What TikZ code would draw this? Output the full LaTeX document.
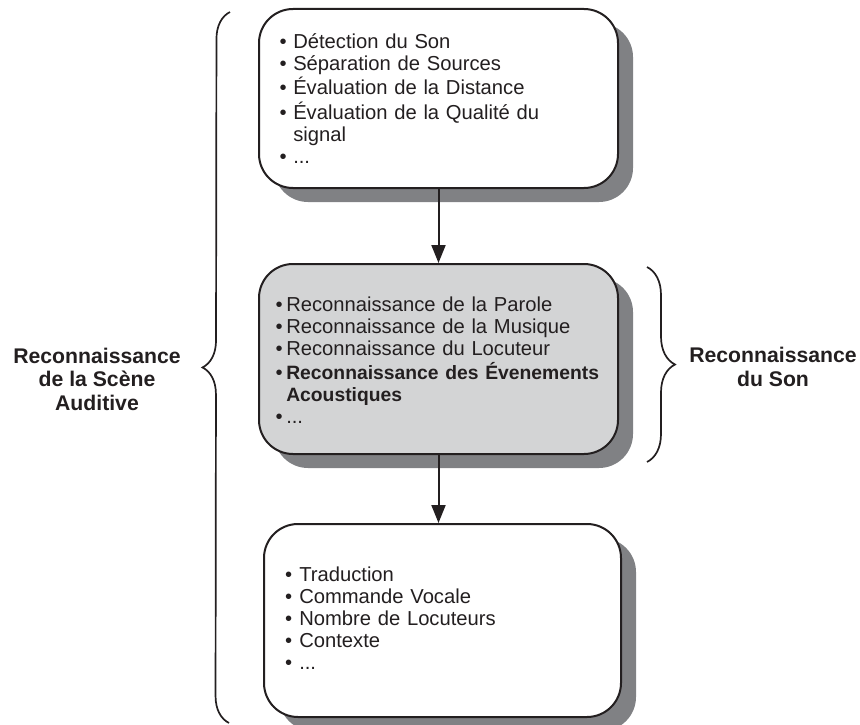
\documentclass[tikz,border=0pt]{standalone}
\usepackage{fontspec}
\setmainfont{Liberation Sans}
\usetikzlibrary{arrows.meta,shadows,decorations.pathreplacing}

\definecolor{shadowgray}{RGB}{128,129,132}
\definecolor{boxgray}{RGB}{211,212,213}
\definecolor{ink}{RGB}{35,31,32}

\newcommand{\itemfont}{\fontsize{20.2}{22}\selectfont}
\newcommand{\bolditem}[1]{{\fontsize{19.3}{22}\selectfont\bfseries #1}}
\newcommand{\labelfont}{\fontsize{21.2}{23.5}\selectfont\bfseries}

\begin{document}
\begin{tikzpicture}[x=1pt,y=-1pt,
  panel/.style={draw=ink, line width=2pt, rounded corners=34pt, anchor=north west,
    inner ysep=0pt, align=left, font=\itemfont, text=ink,
    drop shadow={shadow xshift=15pt, shadow yshift=-14pt, fill=shadowgray, opacity=1}},
  sidelabel/.style={font=\labelfont, align=center, text=ink},
  flow/.style={draw=ink, line width=2pt, -{Triangle[width=14pt,length=18pt]}},
  bracestyle/.style={draw=ink, line width=1.7pt, decorate}]

\useasboundingbox (0,0) rectangle (860,725);

% top box
\node[panel, fill=white, minimum height=179pt, inner xsep=20.6pt, text width=317.8pt] (b1) at (258,8) {%
\raisebox{-3pt}[\height][\depth]{\begin{tabular}{@{}l@{\hspace{6.6pt}}l@{}}
• & Détection du Son\\
• & Séparation de Sources\\
• & Évaluation de la Distance\\
• & Évaluation de la Qualité du\\
  & signal\\
• & ...
\end{tabular}}};

% middle box
\node[panel, fill=boxgray, minimum height=190pt, inner xsep=16.6pt, text width=325.8pt] (b2) at (258,263) {%
\raisebox{-4pt}[\height][\depth]{\begin{tabular}{@{}l@{\hspace{3.6pt}}l@{}}
• & Reconnaissance de la Parole\\
• & Reconnaissance de la Musique\\
• & Reconnaissance du Locuteur\\
• & \bolditem{Reconnaissance des Évenements}\\
  & \bolditem{Acoustiques}\\
• & ...
\end{tabular}}};

% bottom box
\node[panel, fill=white, minimum height=193pt, inner xsep=21pt, text width=315pt] (b3) at (263,523) {%
\raisebox{-1pt}[\height][\depth]{\begin{tabular}{@{}l@{\hspace{7.2pt}}l@{}}
• & Traduction\\
• & Commande Vocale\\
• & Nombre de Locuteurs\\
• & Contexte\\
• & ...
\end{tabular}}};

% arrows
\draw[flow] (b1.south) -- (b2.north);
\draw[flow] (b2.south) -- (b2.south |- b3.north);

% braces
\coordinate (lbB) at (229,723);
\coordinate (lbT) at (230,12);
\draw[bracestyle, decoration={brace, amplitude=27pt}] (lbB) -- (lbT);

\coordinate (rbT) at (647,267);
\coordinate (rbB) at (647,462);
\draw[bracestyle, decoration={brace, amplitude=28pt}] (rbT) -- (rbB);

% side labels
\node[sidelabel] (lsa) at (97,379) {Reconnaissance\\de la Scène\\Auditive};
\node[sidelabel] (lsn) at (773,367) {Reconnaissance\\du Son};

\end{tikzpicture}
\end{document}
